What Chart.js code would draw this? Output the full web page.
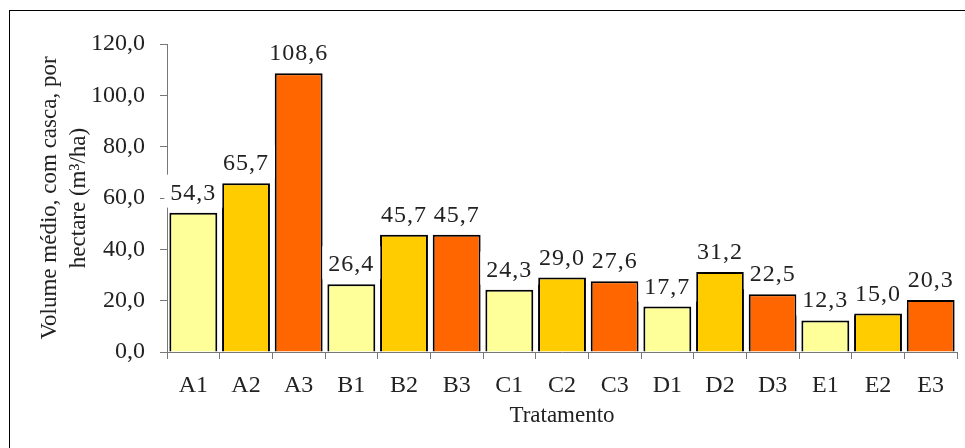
<!DOCTYPE html>
<html>
<head>
<meta charset="utf-8">
<script src="https://cdn.jsdelivr.net/npm/chart.js@4"></script>
<style>
  html, body { margin:0; padding:0; background:#fff; overflow:hidden; }
  #frame { position:absolute; left:9px; top:10px; width:2000px; height:2000px; border:1.5px solid #000; }
  #wrap { position:absolute; left:0; top:0; width:965px; height:448px; }
</style>
</head>
<body>
<div id="frame"></div>
<div id="wrap"><canvas id="chart" width="965" height="448"></canvas></div>
<script>
const categories = ["A1","A2","A3","B1","B2","B3","C1","C2","C3","D1","D2","D3","E1","E2","E3"];
const volumes = [54.3, 65.7, 108.6, 26.4, 45.7, 45.7, 24.3, 29.0, 27.6, 17.7, 31.2, 22.5, 12.3, 15.0, 20.3];
const barColors = ["#FFFF99","#FFCC00","#FF6600"];
const yTitle = ["Volume médio, com casca, por", "hectare (m³/ha)"];
const xTitle = "Tratamento";

const FONT = "'Liberation Serif', 'Times New Roman', serif";
const fmt = v => v.toFixed(1).replace(".", ",");

// value labels on white boxes above each bar
const valueLabels = {
  id: "valueLabels",
  afterDatasetsDraw(chart) {
    const ctx = chart.ctx;
    const meta = chart.getDatasetMeta(0);
    ctx.save();
    ctx.font = "24px " + FONT;
    ctx.letterSpacing = "1px";
    ctx.textAlign = "center";
    ctx.textBaseline = "alphabetic";
    meta.data.forEach((bar, i) => {
      const txt = fmt(volumes[i]);
      const w = ctx.measureText(txt).width;
      ctx.fillStyle = "#fff";
      ctx.fillRect(bar.x - w/2 - 6, bar.y - 38, w + 12, 33);
      ctx.fillStyle = "#222";
      ctx.fillText(txt, bar.x, bar.y - 13);
    });
    ctx.restore();
  }
};

new Chart(document.getElementById("chart"), {
  type: "bar",
  data: {
    labels: categories,
    datasets: [{
      data: volumes,
      backgroundColor: categories.map((c, i) => barColors[i % 3]),
      borderColor: "#000",
      borderWidth: 2,
      barPercentage: 0.91,
      categoryPercentage: 1
    }]
  },
  options: {
    responsive: false,
    animation: false,
    layout: { padding: { left: 0, right: 8, top: 44, bottom: 0 } },
    plugins: { legend: { display: false }, tooltip: { enabled: false } },
    scales: {
      x: {
        afterFit: s => { s.height = 96; },
        grid: { drawOnChartArea: false, drawTicks: true, tickLength: 7, color: "#777", offset: true },
        border: { display: true, color: "#777", width: 1 },
        ticks: { color: "#222", padding: 12, font: { family: FONT, size: 24 } },
        title: { display: true, text: xTitle, color: "#222", font: { family: FONT, size: 23, lineHeight: 1.26 }, padding: { top: 0, bottom: 18 } }
      },
      y: {
        min: 0, max: 120,
        afterFit: s => { s.width = 167; },
        grid: { drawOnChartArea: false, drawTicks: true, tickLength: 7, color: "#777" },
        border: { display: true, color: "#777", width: 1 },
        ticks: { stepSize: 20, color: "#222", padding: 15, font: { family: FONT, size: 24 }, callback: v => fmt(v) },
        title: { display: true, text: yTitle, color: "#222", font: { family: FONT, size: 23, lineHeight: 1.26 }, padding: { top: 35, bottom: 0 } }
      }
    }
  },
  plugins: [valueLabels]
});
</script>
</body>
</html>
